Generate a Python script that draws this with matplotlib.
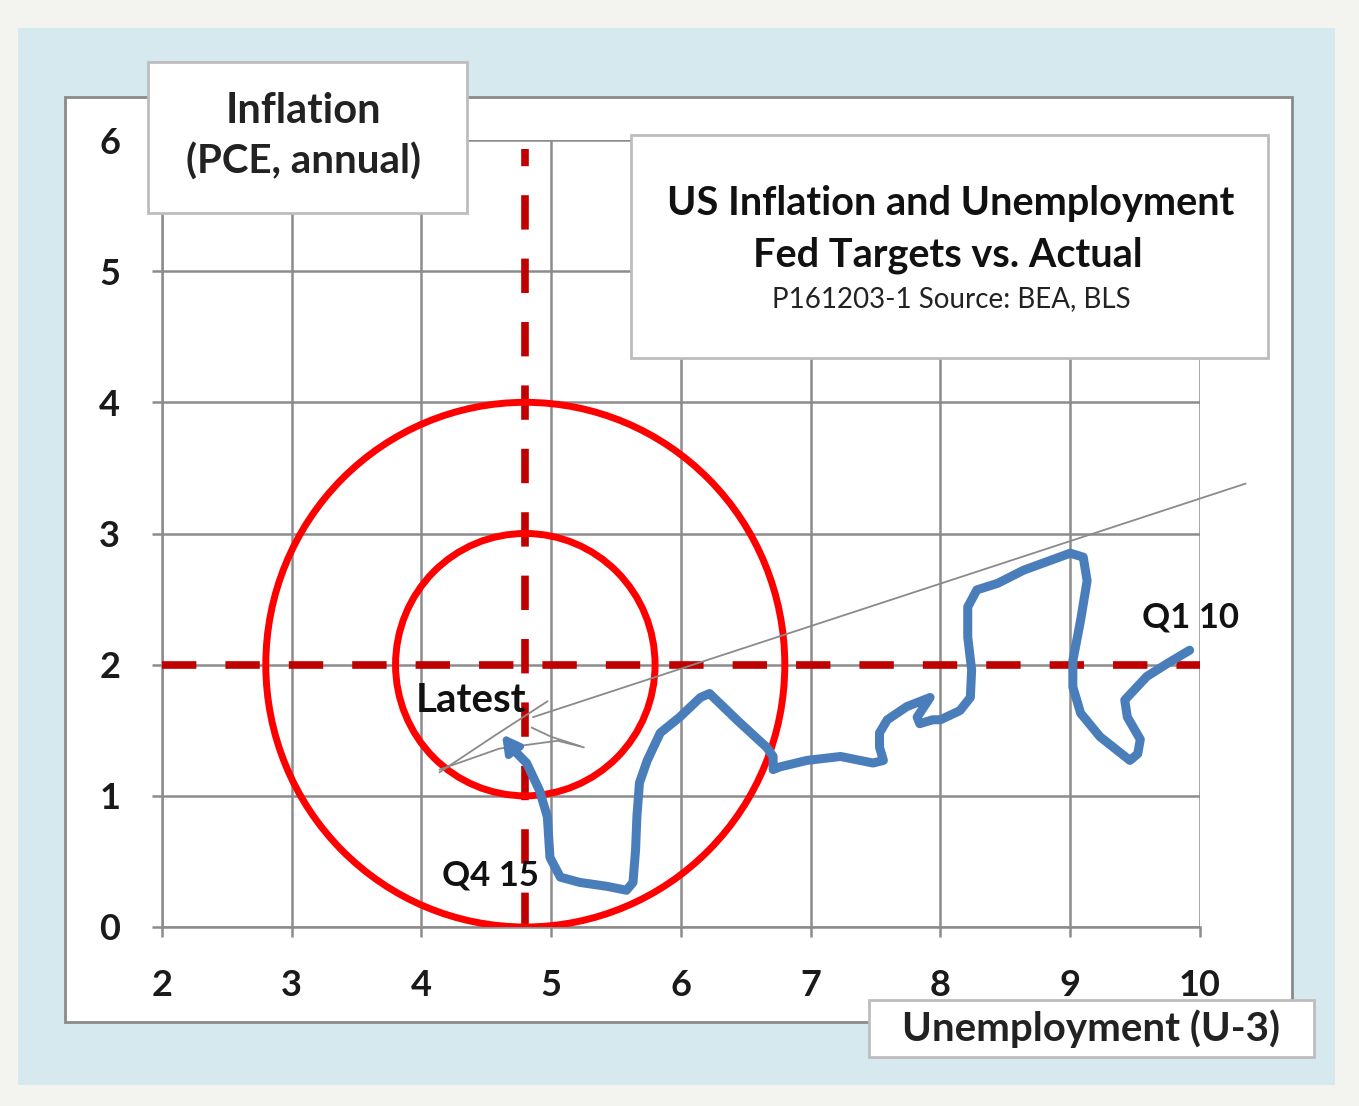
import matplotlib
matplotlib.use('Agg')
import matplotlib.pyplot as plt
from matplotlib.patches import Rectangle, Ellipse

plt.rcParams['font.family'] = ['Lato', 'DejaVu Sans']

W, H = 1359, 1106

# blue path, Q1 10 -> Q4 15 (unemployment, inflation)
unemp = [9.92, 9.75, 9.59, 9.42, 9.44, 9.54, 9.52, 9.46, 9.23, 9.08, 9.02, 9.02, 9.08, 9.13,
         9.10, 9.00, 8.64, 8.44, 8.28, 8.21, 8.21, 8.24, 8.23, 8.15, 8.00, 7.94, 7.84, 7.82,
         7.92, 7.74, 7.59, 7.53, 7.53, 7.56, 7.48, 7.23, 6.97, 6.76, 6.71, 6.71, 6.66, 6.44,
         6.22, 6.15, 5.99, 5.84, 5.74, 5.68, 5.66, 5.65, 5.63, 5.58, 5.43, 5.22, 5.07, 4.99,
         4.97, 4.91, 4.81, 4.71]
infl = [2.11, 2.01, 1.91, 1.73, 1.60, 1.43, 1.32, 1.27, 1.45, 1.63, 1.83, 2.03, 2.34, 2.64,
        2.82, 2.85, 2.72, 2.62, 2.57, 2.44, 2.21, 1.96, 1.75, 1.65, 1.58, 1.58, 1.55, 1.60,
        1.75, 1.68, 1.58, 1.48, 1.37, 1.27, 1.25, 1.30, 1.27, 1.22, 1.20, 1.30, 1.37, 1.57,
        1.78, 1.75, 1.60, 1.48, 1.27, 1.10, 0.84, 0.59, 0.34, 0.28, 0.31, 0.34, 0.38, 0.53,
        0.84, 1.04, 1.25, 1.35]
latest = (4.62, 1.47)

x_ticks = [2, 3, 4, 5, 6, 7, 8, 9, 10]
y_ticks = [0, 1, 2, 3, 4, 5, 6]

target_unemp = 4.8
target_infl = 2.0
ring_radii = [1, 2]

# sketchy gray pointer
pointer_x = [10.35, 4.86]
pointer_y = [3.38, 1.60]
stroke1_x = [4.14, 4.55, 4.97]
stroke1_y = [1.18, 1.45, 1.72]
stroke2_x = [4.14, 4.60, 5.05, 5.25]
stroke2_y = [1.20, 1.36, 1.42, 1.37]
stroke3_x = [4.85, 5.00, 5.22]
stroke3_y = [1.52, 1.45, 1.38]


def fx(px):
    return px / W


def fy(py):
    return 1 - py / H


fig = plt.figure(figsize=(W / 100, H / 100), dpi=100, facecolor='#F3F3EF')

# backgrounds
fig.patches.append(Rectangle((fx(18), fy(1085)), fx(1335) - fx(18), fy(28) - fy(1085),
                             transform=fig.transFigure, fc='#D6E9EF', ec='none', zorder=-3))
fig.patches.append(Rectangle((fx(65), fy(1022)), fx(1292) - fx(65), fy(97) - fy(1022),
                             transform=fig.transFigure, fc='white', ec='#8A8A8A', lw=2, zorder=-2))

ax = fig.add_axes([fx(162), fy(927), fx(1200) - fx(162), fy(140) - fy(927)])
ax.set_facecolor('none')
ax.set_xlim(2, 10)
ax.set_ylim(0, 6)
ax.set_xticks(x_ticks)
ax.set_yticks(y_ticks)
ax.grid(True, color='#8C8C8C', lw=1.8)
ax.set_axisbelow(True)
for s in ['top', 'right']:
    ax.spines[s].set_visible(False)
for s in ['left', 'bottom']:
    ax.spines[s].set_color('#8C8C8C')
    ax.spines[s].set_linewidth(1.8)
ax.tick_params(direction='out', length=7, width=1.8, color='#8C8C8C',
               labelsize=26, labelcolor='#1A1A1A')
ax.tick_params(axis='x', pad=23)
ax.tick_params(axis='y', pad=23)
for lab in ax.get_xticklabels() + ax.get_yticklabels():
    lab.set_fontweight('bold')

# target lines
ax.plot([target_unemp, target_unemp], [0, 5.93], color='#C00000', lw=5.5,
        linestyle=(0, (4.5, 3.8)), zorder=3)
ax.plot([2, 10], [target_infl, target_infl], color='#C00000', lw=5.5,
        linestyle=(0, (4.5, 3.8)), zorder=3)

# rings
for r in ring_radii:
    ax.add_patch(Ellipse((target_unemp, target_infl), 2 * r, 2 * r, fill=False,
                         ec='#FF0000', lw=5, zorder=4))

# gray pointer
for xs, ys in [(pointer_x, pointer_y), (stroke1_x, stroke1_y),
               (stroke2_x, stroke2_y), (stroke3_x, stroke3_y)]:
    ax.plot(xs, ys, color='#8A8A8A', lw=1.3, clip_on=False, zorder=5)

# blue path
ax.plot(unemp, infl, color='#4A7EBB', lw=6.5, solid_capstyle='round',
        solid_joinstyle='round', zorder=6)
ax.annotate('', xy=latest, xytext=(unemp[-1], infl[-1]),
            arrowprops=dict(arrowstyle='-|>,head_length=1.0,head_width=0.55',
                            color='#4A7EBB', lw=5, shrinkA=0, shrinkB=0), zorder=6)

ax.text(4.38, 1.73, 'Latest', fontsize=29, fontweight='bold', color='#111111',
        ha='center', va='center', zorder=7)
ax.text(4.53, 0.39, 'Q4 15', fontsize=25, fontweight='bold', color='#111111',
        ha='center', va='center', zorder=7)
ax.text(9.93, 2.36, 'Q1 10', fontsize=25, fontweight='bold', color='#111111',
        ha='center', va='center', zorder=7)

# label boxes
boxes = [(148, 62, 467, 213), (631, 135, 1268, 358), (869, 1000, 1314, 1057)]
for x0, y0, x1, y1 in boxes:
    fig.patches.append(Rectangle((fx(x0), fy(y1)), fx(x1) - fx(x0), fy(y0) - fy(y1),
                                 transform=fig.transFigure, fc='white', ec='#BDBDBD',
                                 lw=2, zorder=10))

fig.text(fx(303), fy(111), 'Inflation', fontsize=30, fontweight='bold', color='#222222',
         ha='center', va='center', zorder=11)
fig.text(fx(303), fy(162), '(PCE, annual)', fontsize=29, fontweight='bold', color='#222222',
         ha='center', va='center', zorder=11)
fig.text(fx(951), fy(203), 'US Inflation and Unemployment', fontsize=28.5, fontweight='bold',
         color='#111111', ha='center', va='center', zorder=11)
fig.text(fx(948), fy(255), 'Fed Targets vs. Actual', fontsize=28.5, fontweight='bold',
         color='#111111', ha='center', va='center', zorder=11)
fig.text(fx(951), fy(299), 'P161203-1 Source: BEA, BLS', fontsize=20, color='#222222',
         ha='center', va='center', zorder=11)
fig.text(fx(1091), fy(1029), 'Unemployment (U-3)', fontsize=29, fontweight='bold',
         color='#222222', ha='center', va='center', zorder=11)

fig.savefig('out.png', dpi=100, facecolor=fig.get_facecolor())
